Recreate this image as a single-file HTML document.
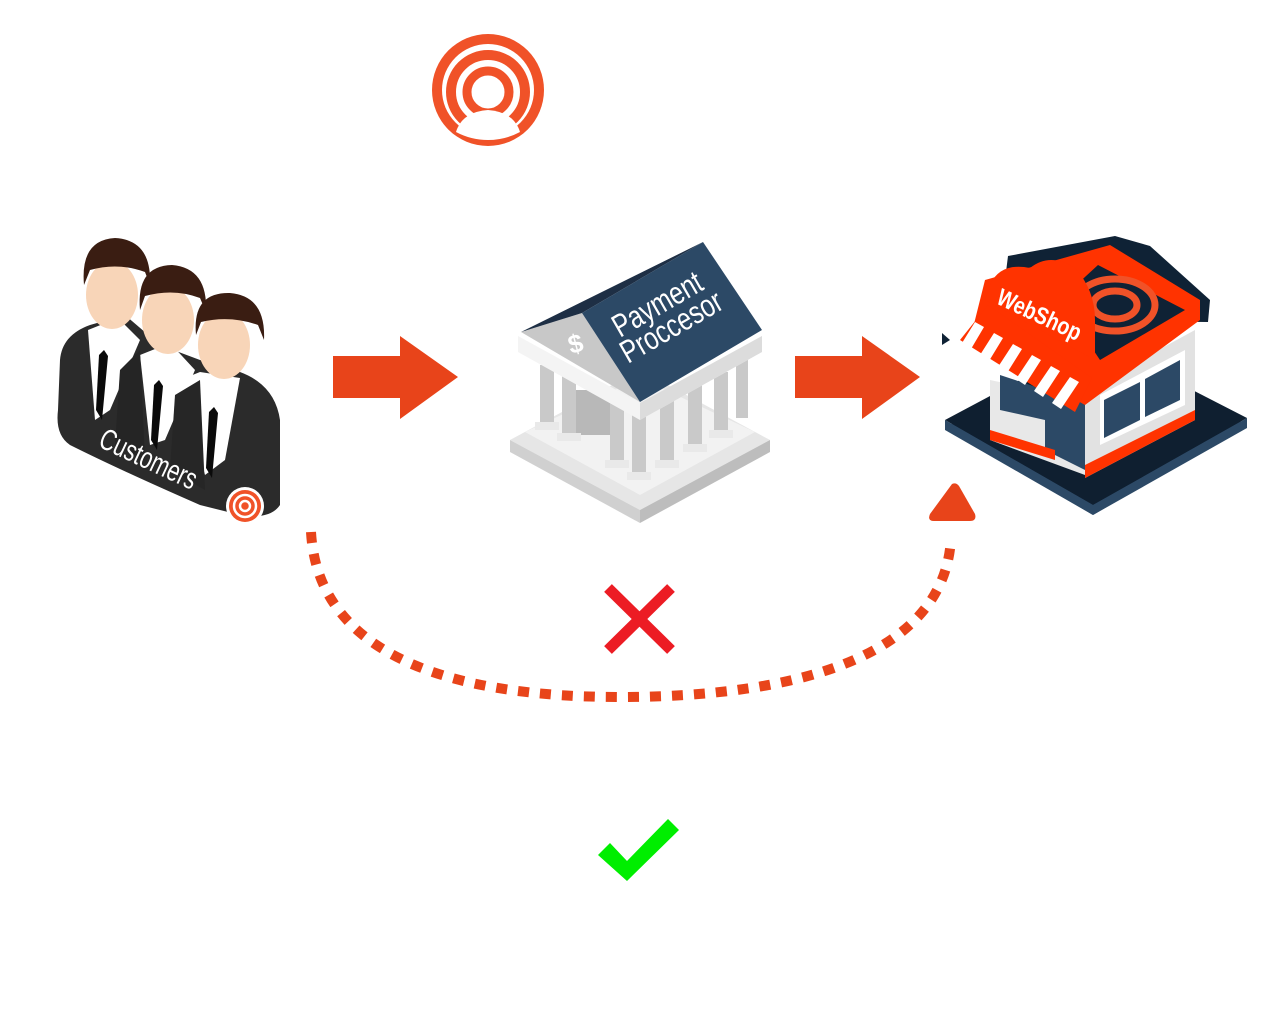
<!DOCTYPE html>
<html><head><meta charset="utf-8"><style>
html,body{margin:0;padding:0;background:#fff;}
svg{display:block;}
text{font-family:"Liberation Sans Narrow","Liberation Sans",sans-serif;}
</style></head><body>
<svg width="1280" height="1032" viewBox="0 0 1280 1032" xmlns="http://www.w3.org/2000/svg">
<!-- Logo -->
<circle cx="488" cy="90" r="56" fill="#f05228"/>
<circle cx="488" cy="90" r="46" fill="#fff"/>
<circle cx="488" cy="92" r="37" fill="none" stroke="#f05228" stroke-width="10"/>
<circle cx="488" cy="92" r="21" fill="none" stroke="#f05228" stroke-width="9"/>
<path d="M456,132 Q462,112 488,110 Q514,112 520,132 Q505,140 488,140 Q471,140 456,132Z" fill="#fff"/>

<!-- Arrows -->
<path d="M333,356 H400 V336 L458,377 L400,419 V398 H333Z" fill="#e8441a"/>
<path d="M795,356 H862 V336 L920,377 L862,419 V398 H795Z" fill="#e8441a"/>

<!-- Customers -->
<g>
<path d="M60,360 Q62,335 90,325 L125,315 L160,345 L200,360 L240,372 Q275,385 280,420 L280,505 Q270,520 240,515 L200,505 Q120,470 70,445 Q55,435 58,410Z" fill="#2b2b2b"/>
<path d="M88,330 L118,318 L140,340 L110,410 L95,420Z" fill="#fff"/>
<polygon points="99,355 104,350 108,356 102,420 96,410" fill="#0a0a0a"/>
<ellipse cx="112" cy="295" rx="26" ry="34" fill="#f8d5b8"/>
<path d="M84,285 Q80,240 115,238 Q152,240 150,285 L145,272 Q118,262 90,270Z" fill="#3a1d12"/>
<path d="M140,355 L170,343 L195,370 L165,440 L150,445Z" fill="#fff"/>
<path d="M120,370 L140,350 L145,460 L115,445Z" fill="#252525"/>
<polygon points="154,385 159,380 163,386 157,450 151,440" fill="#0a0a0a"/>
<ellipse cx="168" cy="320" rx="26" ry="34" fill="#f8d5b8"/>
<path d="M140,310 Q136,266 172,265 Q208,268 206,312 L200,298 Q174,288 145,296Z" fill="#3a1d12"/>
<path d="M180,380 L200,372 L240,378 L225,460 L205,475Z" fill="#fff"/>
<path d="M175,395 L200,380 L205,490 L170,470Z" fill="#262626"/>
<polygon points="209,412 214,407 218,413 212,478 206,468" fill="#0a0a0a"/>
<ellipse cx="224" cy="345" rx="26" ry="34" fill="#f8d5b8"/>
<path d="M196,335 Q192,292 230,293 Q266,296 264,340 L258,325 Q230,315 201,322Z" fill="#3a1d12"/>
<text x="0" y="0" font-size="30" fill="#fff" transform="translate(97,446) rotate(25) scale(0.72,1)">Customers</text>
<circle cx="245" cy="506" r="19" fill="#fff"/>
<circle cx="245" cy="506" r="16" fill="#f05228"/>
<circle cx="245" cy="506" r="11" fill="none" stroke="#fff" stroke-width="2.5"/>
<circle cx="245" cy="506" r="5" fill="none" stroke="#fff" stroke-width="2.5"/>
</g>

<!-- Bank -->
<g>
<polygon points="510,440 640,370 770,440 640,510" fill="#e6e6e6"/>
<polygon points="510,440 640,510 640,523 510,452" fill="#d0d0d0"/>
<polygon points="640,510 770,440 770,452 640,523" fill="#bdbdbd"/>
<polygon points="525,432 640,378 755,432 640,495" fill="#f2f2f2"/>
<rect x="575" y="390" width="35" height="45" fill="#b8b8b8"/>
<g fill="#c9c9c9">
<rect x="540" y="365" width="14" height="60"/><rect x="562" y="375" width="14" height="62"/>
<rect x="610" y="395" width="14" height="68"/><rect x="632" y="405" width="14" height="70"/>
<rect x="660" y="395" width="14" height="68"/><rect x="688" y="385" width="14" height="62"/>
<rect x="714" y="372" width="14" height="60"/><rect x="736" y="360" width="12" height="58"/>
</g>
<g fill="#e9e9e9">
<rect x="535" y="422" width="24" height="8"/><rect x="557" y="433" width="24" height="8"/>
<rect x="605" y="460" width="24" height="8"/><rect x="627" y="472" width="24" height="8"/>
<rect x="655" y="460" width="24" height="8"/><rect x="683" y="444" width="24" height="8"/>
<rect x="709" y="430" width="24" height="8"/>
</g>
<polygon points="518,336 640,403 762,336 762,352 640,420 518,352" fill="#f4f4f4"/>
<polygon points="640,403 762,336 762,352 640,420" fill="#dcdcdc"/>
<polygon points="521,332 582,313 640,402" fill="#c8c8c8"/>
<polygon points="521,332 703,242 582,313" fill="#1e2f45"/>
<polygon points="582,313 703,242 762,330 640,402" fill="#2c4966"/>
<text x="568" y="352" font-size="26" fill="#fff" transform="rotate(-15 578 342)" font-weight="bold">$</text>
<text font-size="32" fill="#fff" transform="translate(620,338) rotate(-30) scale(0.78,1)">Payment</text>
<text font-size="32" fill="#fff" transform="translate(628,364) rotate(-30) scale(0.78,1)">Proccesor</text>
</g>

<!-- WebShop -->
<g>
<polygon points="945,428 1095,345 1247,425 1093,515" fill="#2c4966"/>
<polygon points="945,420 1095,340 1247,418 1093,505" fill="#0f1f30"/>
<polygon points="945,420 1093,505 1093,515 945,430" fill="#2c4966"/>
<polygon points="1093,505 1247,418 1247,428 1093,515" fill="#2c4966"/>
<polygon points="1008,256 1115,236 1150,246 1210,300 1208,322 1000,320" fill="#0f2235"/>
<polygon points="990,380 1085,400 1085,475 990,440" fill="#e8e8e8"/>
<polygon points="1000,375 1045,390 1045,420 1000,410" fill="#2c4966"/>
<polygon points="1045,390 1085,402 1085,470 1045,450" fill="#2c4966"/>
<polygon points="990,430 1055,450 1055,460 990,440" fill="#ff3300"/>
<polygon points="1085,390 1195,330 1195,420 1085,478" fill="#e2e2e2"/>
<polygon points="1100,395 1185,350 1185,405 1100,445" fill="#fff"/>
<polygon points="1104,400 1140,382 1140,420 1104,438" fill="#2c4966"/>
<polygon points="1145,379 1180,360 1180,400 1145,417" fill="#2c4966"/>
<polygon points="1085,465 1195,410 1195,420 1085,478" fill="#ff3300"/>
<polygon points="985,280 1110,245 1200,300 1200,320 1085,405 970,340" fill="#ff3300"/>
<polygon points="1098,265 1185,310 1100,360 1060,300" fill="#0f2235"/>
<g fill="none" stroke="#f05228" stroke-width="7">
<ellipse cx="1115" cy="305" rx="22" ry="14"/>
<ellipse cx="1115" cy="305" rx="40" ry="26"/>
</g>
<path d="M990,285 Q1000,262 1030,268 Q1050,252 1075,268 Q1095,290 1095,320 L1095,360 L985,300Z" fill="#ff3300"/>
<text font-size="24" fill="#fff" font-weight="bold" transform="translate(995,303) rotate(25) scale(0.82,1)">WebShop</text>
<polygon points="960,340 988,305 1092,378 1075,412" fill="#ff3300"/>
<g fill="#fff">
<polygon points="962,343 975,322 984,327 971,349"/>
<polygon points="980,355 994,333 1003,338 989,361"/>
<polygon points="998,367 1013,344 1022,349 1007,373"/>
<polygon points="1016,379 1032,355 1041,360 1025,385"/>
<polygon points="1034,391 1051,366 1060,371 1043,397"/>
<polygon points="1052,403 1070,377 1079,382 1061,409"/>
</g>
<polygon points="942,333 950,340 942,345" fill="#0f2235"/>
</g>

<!-- Dotted connector -->
<path d="M311,532 C318,655 450,697 620,697 C800,697 945,655 951,538" fill="none" stroke="#e8441a" stroke-width="10" stroke-dasharray="11 11"/>
<path d="M952,484 Q956,482 959,486 L975,514 Q977,521 970,521 L934,521 Q927,521 930,514 Z" fill="#e8441a"/>

<!-- X -->
<g stroke="#ec1c24" stroke-width="11">
<line x1="608" y1="588" x2="671" y2="650"/>
<line x1="671" y1="588" x2="608" y2="650"/>
</g>
<polygon points="598,855 610,843 627,861 668,819 679,830 627,881" fill="#00ee00"/>
</svg>
</body></html>
